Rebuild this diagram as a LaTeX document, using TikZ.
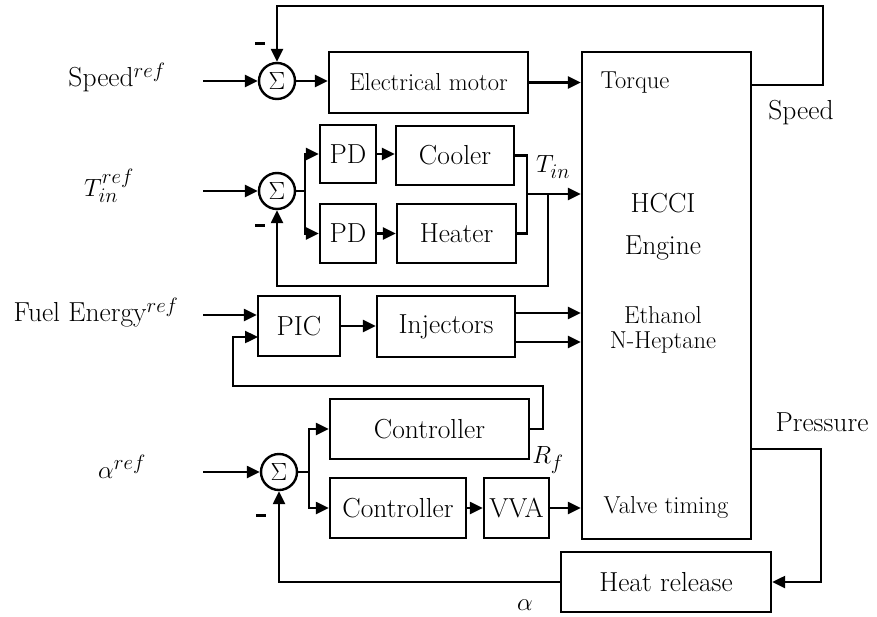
\documentclass[tikz,border=0pt]{standalone}
\usetikzlibrary{arrows.meta}
\newcommand\bigf{\fontsize{27.5}{33}\selectfont}
\newcommand\smallf{\fontsize{24.5}{29}\selectfont}
\begin{document}
\begin{tikzpicture}[x=1pt,y=-1pt,line width=2.4pt,
  arr/.style={-{Triangle[length=13pt,width=12pt]}},
  box/.style={draw,line width=2.4pt,inner sep=0pt,font=\bigf,anchor=center},
  sumnode/.style={draw,circle,line width=2.4pt,minimum size=36pt,inner sep=0pt,font=\fontsize{29}{32}\selectfont},
  lab/.style={inner sep=0pt,font=\bigf,anchor=center},
  slab/.style={inner sep=0pt,font=\smallf,anchor=center},
  minus/.style={inner sep=0pt,anchor=center}]
\useasboundingbox (0,0) rectangle (877,616);

% input labels
\node[lab] (lspeed) at (117,77) {Speed$^{ref}$};
\node[lab] (ltin) at (109,186) {$T_{in}^{ref}$};
\node[lab] (lfuel) at (96,313) {Fuel Energy$^{ref}$};
\node[lab] (lalpha) at (122,467) {$\alpha^{ref}$};

% summing junctions
\node[sumnode] (s1) at (277,81) {$\Sigma$};
\node[sumnode] (s2) at (277,191) {$\Sigma$};
\node[sumnode] (s3) at (279,472) {$\Sigma$};

\node[minus] (m1) at (260,43) {\rule{10pt}{3pt}};
\node[minus] (m2) at (260,225) {\rule{10pt}{3pt}};
\node[minus] (m3) at (261,515) {\rule{10pt}{3pt}};

% boxes
\node[box,minimum width=199pt,minimum height=61pt,font=\smallf] (motor) at (428.5,82.5) {Electrical motor};
\node[box,minimum width=169pt,minimum height=487pt] (engine) at (666.5,295.5) {};
\node[box,minimum width=56pt,minimum height=58pt] (pd1) at (348,154) {PD};
\node[box,minimum width=56pt,minimum height=59pt] (pd2) at (348,233.5) {PD};
\node[box,minimum width=118pt,minimum height=59pt] (cooler) at (455,155.5) {Cooler};
\node[box,minimum width=119pt,minimum height=59pt] (heater) at (456.5,233.5) {Heater};
\node[box,minimum width=82pt,minimum height=60pt] (pic) at (299,326) {PIC};
\node[box,minimum width=138pt,minimum height=61pt] (inj) at (446,326.5) {Injectors};
\node[box,minimum width=199pt,minimum height=60pt] (ctrl1) at (429.5,429) {Controller};
\node[box,minimum width=136pt,minimum height=60pt] (ctrl2) at (398,508) {Controller};
\node[box,minimum width=65pt,minimum height=60pt] (vva) at (516.5,508) {VVA};
\node[box,minimum width=210pt,minimum height=60pt] (heat) at (666,582) {Heat release};

% engine inner texts
\node[slab] (torque) at (635,83) {Torque};
\node[lab] (hcci) at (663,203) {HCCI};
\node[lab] (eng) at (663,248) {Engine};
\node[slab] (eth) at (663,315) {Ethanol};
\node[slab] (hep) at (663,343) {N-Heptane};
\node[slab] (valve) at (666,507) {Valve timing};

% signal labels
\node[lab] (lsp) at (801,113) {Speed};
\node[lab] (lpr) at (822,422) {Pressure};
\node[lab] (ltinl) at (553,167) {$T_{in}$};
\node[lab] (lrf) at (548,460) {$R_f$};
\node[lab] (lal) at (525,605) {$\alpha$};

% coordinates
\coordinate (i1) at (203,81);
\coordinate (i2) at (203,191);
\coordinate (i3) at (203,315);
\coordinate (i4) at (203,472);
\coordinate (spo) at (751,85);
\coordinate (spc) at (823,6);
\coordinate (b2) at (305,191);
\coordinate (mj) at (527,194);
\coordinate (f2) at (548,194);
\coordinate (fb2) at (277,286);
\coordinate (pin2) at (258,337);
\coordinate (rfa) at (543,386);
\coordinate (rfb) at (233,386);
\coordinate (ieth) at (515,313);
\coordinate (ihep) at (515,342);
\coordinate (b3) at (309,472);
\coordinate (pro) at (751,449);
\coordinate (prd) at (821,582);

% speed loop
\draw[arr] (i1) -- (s1.west);
\draw[arr] (s1.east) -- (s1.east -| motor.west);
\draw[arr] (motor.east) -- (motor.east -| engine.west);
\draw[arr] (spo) -| (spc) -| (s1.north);

% temperature loop
\draw[arr] (i2) -- (s2.west);
\draw (s2.east) -- (b2);
\draw[arr] (b2) |- (pd1.west);
\draw[arr] (b2) |- (pd2.west);
\draw[arr] (pd1.east) -- (pd1.east -| cooler.west);
\draw[arr] (pd2.east) -- (pd2.east -| heater.west);
\draw (cooler.east) -| (mj);
\draw (heater.east) -| (mj);
\draw[arr] (mj) -- (mj -| engine.west);
\draw[arr] (f2) |- (fb2) -- (s2.south);

% fuel loop
\draw[arr] (i3) -- (i3 -| pic.west);
\draw[arr] (pic.east) -- (pic.east -| inj.west);
\draw[arr] (ieth) -- (ieth -| engine.west);
\draw[arr] (ihep) -- (ihep -| engine.west);
\draw[arr] (ctrl1.east) -| (rfa) -- (rfb) |- (pin2);

% combustion phasing loop
\draw[arr] (i4) -- (s3.west);
\draw (s3.east) -- (b3);
\draw[arr] (b3) |- (ctrl1.west);
\draw[arr] (b3) |- (ctrl2.west);
\draw[arr] (ctrl2.east) -- (vva.west);
\draw[arr] (vva.east) -- (vva.east -| engine.west);
\draw[arr] (pro) -| (prd) -- (heat.east);
\draw[arr] (heat.west) -| (s3.south);
\end{tikzpicture}
\end{document}
